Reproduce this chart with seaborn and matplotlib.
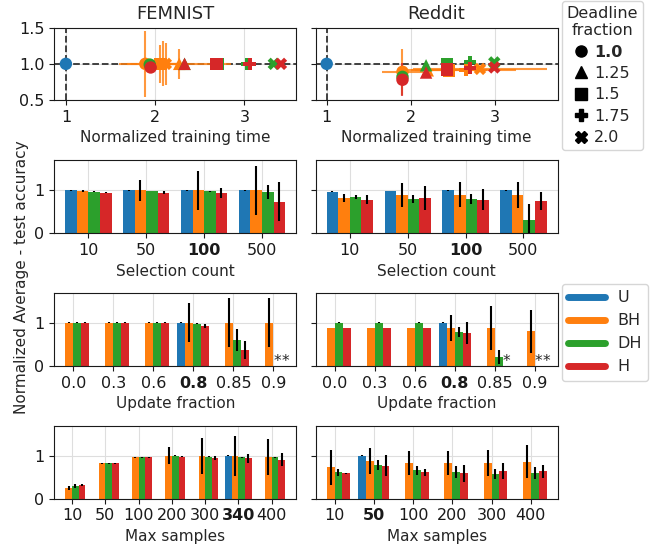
import numpy as np
import pandas as pd
import matplotlib
matplotlib.use("Agg")
import matplotlib.pyplot as plt
from matplotlib.lines import Line2D
from matplotlib.colors import to_hex
import seaborn as sns

methods = ['U', 'BH', 'DH', 'H']
colors = ['#1f77b4', '#ff7f0e', '#2ca02c', '#d62728']
deadlines = ['1.0', '1.25', '1.5', '1.75', '2.0']
deadline_markers = ['o', '^', 's', 'P', 'X']

# top row: normalized training time vs normalized accuracy
femnist_method = ['U', 'BH', 'BH', 'BH', 'BH', 'BH', 'DH', 'DH', 'DH', 'DH', 'DH', 'H', 'H', 'H', 'H', 'H']
femnist_deadline = ['1.0', '1.0', '1.25', '1.5', '1.75', '2.0', '1.0', '1.25', '1.5', '1.75', '2.0', '1.0', '1.25', '1.5', '1.75', '2.0']
femnist_time = [1.0, 1.89, 2.27, 2.06, 2.09, 2.12, 1.94, 2.33, 2.70, 3.03, 3.33, 1.95, 2.33, 2.69, 3.06, 3.41]
femnist_time_err = [0, 0.30, 0.58, 0.20, 0.20, 0.25, 0, 0, 0, 0, 0, 0, 0, 0, 0, 0]
femnist_acc = [1.0, 1.0, 1.0, 1.0, 1.0, 1.0, 0.99, 1.0, 1.0, 1.0, 1.0, 0.95, 1.0, 1.0, 1.0, 1.0]
femnist_acc_err = [0, 0.46, 0.21, 0.26, 0.31, 0.29, 0.02, 0, 0, 0, 0, 0.05, 0, 0, 0, 0]

reddit_method = femnist_method
reddit_deadline = femnist_deadline
reddit_time = [1.0, 1.90, 2.20, 2.45, 2.65, 2.82, 1.90, 2.18, 2.43, 2.70, 2.99, 1.90, 2.18, 2.43, 2.70, 2.99]
reddit_time_err = [0, 0.24, 0.35, 0.45, 0.60, 0.79, 0, 0, 0, 0, 0, 0, 0, 0, 0, 0]
reddit_acc = [1.0, 0.89, 0.91, 0.91, 0.92, 0.93, 0.82, 0.98, 1.0, 1.02, 1.02, 0.78, 0.88, 0.92, 0.94, 0.95]
reddit_acc_err = [0, 0.32, 0.02, 0.02, 0.02, 0.02, 0.05, 0, 0, 0, 0, 0.23, 0, 0, 0, 0]

nan = np.nan

# selection count
sel_cats = ['10', '50', '100', '500']
femnist_sel = {'U': [1.0, 1.0, 1.0, 1.0], 'BH': [0.98, 1.0, 1.0, 1.0],
               'DH': [0.96, 0.98, 0.97, 0.96], 'H': [0.94, 0.94, 0.94, 0.73]}
femnist_sel_err = {'U': [0.01] * 4, 'BH': [0.02, 0.24, 0.45, 0.57],
                   'DH': [0.01, 0.01, 0.01, 0.17], 'H': [0.01, 0.03, 0.11, 0.45]}
reddit_sel = {'U': [0.96, 0.98, 1.0, 1.0], 'BH': [0.82, 0.89, 0.89, 0.89],
              'DH': [0.845, 0.79, 0.79, 0.31], 'H': [0.78, 0.82, 0.78, 0.75]}
reddit_sel_err = {'U': [0.01] * 4, 'BH': [0.10, 0.27, 0.29, 0.31],
                  'DH': [0.04, 0.09, 0.12, 0.37], 'H': [0.10, 0.28, 0.24, 0.21]}

# update fraction
upd_cats = ['0.0', '0.3', '0.6', '0.8', '0.85', '0.9']
femnist_upd = {'U': [nan, nan, nan, 1.0, nan, nan], 'BH': [1.0, 1.0, 1.0, 1.0, 1.0, 1.0],
               'DH': [1.0, 1.0, 1.0, 0.98, 0.60, 0.01], 'H': [1.0, 1.0, 1.0, 0.93, 0.37, 0.01]}
femnist_upd_err = {'U': [0, 0, 0, 0.01, 0, 0], 'BH': [0.01, 0.01, 0.01, 0.45, 0.57, 0.57],
                   'DH': [0.01, 0.01, 0.01, 0.01, 0.25, 0], 'H': [0.01, 0.01, 0.01, 0.05, 0.20, 0]}
reddit_upd = {'U': [nan, nan, nan, 1.0, nan, nan], 'BH': [0.88, 0.88, 0.88, 0.88, 0.88, 0.81],
              'DH': [1.0, 1.0, 1.0, 0.79, 0.20, 0.01], 'H': [0.88, 0.88, 0.88, 0.77, 0.01, 0.01]}
reddit_upd_err = {'U': [0, 0, 0, 0.01, 0, 0], 'BH': [0.01, 0.01, 0.01, 0.31, 0.52, 0.50],
                  'DH': [0.01, 0.01, 0.01, 0.12, 0.16, 0], 'H': [0.01, 0.01, 0.01, 0.25, 0, 0]}

# max samples
femnist_max_cats = ['10', '50', '100', '200', '300', '340', '400']
femnist_max = {'U': [nan, nan, nan, nan, nan, 1.0, nan],
               'BH': [0.25, 0.82, 0.96, 1.0, 1.0, 1.0, 0.98],
               'DH': [0.29, 0.82, 0.96, 1.0, 0.98, 0.96, 0.96],
               'H': [0.32, 0.82, 0.96, 0.98, 0.94, 0.94, 0.91]}
femnist_max_err = {'U': [0, 0, 0, 0, 0, 0.01, 0],
                   'BH': [0.04, 0.01, 0.01, 0.20, 0.42, 0.46, 0.42],
                   'DH': [0.05, 0.01, 0.01, 0.01, 0.01, 0.01, 0.01],
                   'H': [0.02, 0.01, 0.01, 0.01, 0.05, 0.11, 0.15]}
reddit_max_cats = ['10', '50', '100', '200', '300', '400']
reddit_max = {'U': [nan, 1.0, nan, nan, nan, nan],
              'BH': [0.73, 0.88, 0.83, 0.83, 0.83, 0.86],
              'DH': [0.62, 0.79, 0.66, 0.62, 0.57, 0.59],
              'H': [0.59, 0.77, 0.62, 0.59, 0.64, 0.64]}
reddit_max_err = {'U': [0, 0.01, 0, 0, 0, 0],
                  'BH': [0.40, 0.30, 0.28, 0.28, 0.30, 0.38],
                  'DH': [0.08, 0.12, 0.10, 0.14, 0.12, 0.14],
                  'H': [0.02, 0.24, 0.08, 0.20, 0.18, 0.15]}


sns.set_style('whitegrid', rc={'axes.edgecolor': '.1', 'xtick.bottom': True, 'ytick.left': True,
                               'xtick.color': '.1', 'ytick.color': '.1', 'grid.color': '.87',
                               'axes.linewidth': 1.2})
plt.rcParams['font.family'] = ['DejaVu Sans']
plt.rcParams['font.size'] = 11
plt.rcParams['xtick.labelsize'] = 11.5
plt.rcParams['ytick.labelsize'] = 11.5
plt.rcParams['axes.labelsize'] = 11

fig = plt.figure(figsize=(6.57, 5.44), dpi=100)

W, H = 657.0, 544.0
col_x = [54.3, 315.7]
row_y = [(27.7, 100.0), (160.0, 233.3), (292.7, 366.0), (425.7, 498.7)]
axw = 241.8


def make_ax(r, c):
    top, bot = row_y[r]
    return fig.add_axes([col_x[c] / W, 1 - bot / H, axw / W, (bot - top) / H])


palette = dict(zip(methods, colors))
mk = dict(zip(deadlines, deadline_markers))


def time_plot(ax, meth, dl, t, te, a, ae, title, show_y, xlim=None):
    df = pd.DataFrame({'method': meth, 'deadline': dl, 'time': t, 'time_err': te,
                       'acc': a, 'acc_err': ae})
    ax.axhline(1.0, ls='--', color='.2', lw=1.3, zorder=1)
    ax.axvline(1.0, ls='--', color='.2', lw=1.3, zorder=1)
    for m in methods:
        sub = df[df['method'] == m]
        ax.errorbar(sub['time'], sub['acc'], xerr=sub['time_err'], yerr=sub['acc_err'],
                    fmt='none', ecolor=palette[m], elinewidth=1.5, alpha=0.8, zorder=2)
    sns.scatterplot(data=df, x='time', y='acc', hue='method', style='deadline',
                    hue_order=methods, style_order=deadlines, palette=palette, markers=mk,
                    s=80, linewidth=0, legend=False, ax=ax, zorder=3)
    ax.set_ylim(0.5, 1.5)
    if xlim is not None:
        ax.set_xlim(*xlim)
    ax.set_yticks([0.5, 1.0, 1.5])
    ax.set_xticks([1, 2, 3])
    ax.set_xlabel('Normalized training time')
    ax.set_ylabel('')
    ax.set_title(title, fontsize=13)
    if not show_y:
        ax.tick_params(labelleft=False)


def bar_plot(ax, cats, vals, errs, xlabel, bold, show_y, xlim=None):
    rows = []
    for m in methods:
        for i, c in enumerate(cats):
            if not np.isnan(vals[m][i]):
                rows.append((c, m, vals[m][i], errs[m][i]))
    df = pd.DataFrame(rows, columns=['cat', 'method', 'val', 'err'])
    sns.barplot(data=df, x='cat', y='val', hue='method', order=cats, hue_order=methods,
                palette=palette, saturation=1, errorbar=None, width=0.8, legend=False,
                linewidth=0, ax=ax)
    for m in methods:
        patches = [p for p in ax.patches if to_hex(p.get_facecolor()) == palette[m]]
        patches.sort(key=lambda p: p.get_x())
        sub = df[df['method'] == m].copy()
        sub['pos'] = sub['cat'].map({c: i for i, c in enumerate(cats)})
        sub = sub.sort_values('pos')
        xs = [p.get_x() + p.get_width() / 2 for p in patches]
        ax.errorbar(xs, sub['val'], yerr=sub['err'], fmt='none', ecolor='k', elinewidth=1.5, zorder=4)
        for x, v in zip(xs, sub['val']):
            if v < 0.05:
                ax.text(x, 0.0, '*', ha='center', va='baseline', fontsize=11, color='.15')
    ax.autoscale(enable=True, axis='x')
    if xlim is not None:
        ax.set_xlim(*xlim)
    ax.xaxis.grid(True)
    ax.set_ylim(0, 1.7)
    ax.set_yticks([0, 1])
    ax.set_xlabel(xlabel)
    ax.set_ylabel('')
    for lab in ax.get_xticklabels():
        if lab.get_text() == bold:
            lab.set_fontweight('bold')
    if not show_y:
        ax.tick_params(labelleft=False)


time_plot(make_ax(0, 0), femnist_method, femnist_deadline, femnist_time, femnist_time_err,
          femnist_acc, femnist_acc_err, 'FEMNIST', True, (0.87, 3.58))
time_plot(make_ax(0, 1), reddit_method, reddit_deadline, reddit_time, reddit_time_err,
          reddit_acc, reddit_acc_err, 'Reddit', False)

bar_plot(make_ax(1, 0), sel_cats, femnist_sel, femnist_sel_err, 'Selection count', '100', True)
bar_plot(make_ax(1, 1), sel_cats, reddit_sel, reddit_sel_err, 'Selection count', '100', False)
bar_plot(make_ax(2, 0), upd_cats, femnist_upd, femnist_upd_err, 'Update fraction', '0.8', True, (-0.48, 5.57))
bar_plot(make_ax(2, 1), upd_cats, reddit_upd, reddit_upd_err, 'Update fraction', '0.8', False, (-0.48, 5.57))
bar_plot(make_ax(3, 0), femnist_max_cats, femnist_max, femnist_max_err, 'Max samples', '340', True)
bar_plot(make_ax(3, 1), reddit_max_cats, reddit_max, reddit_max_err, 'Max samples', '50', False)

fig.text(0.033, 0.49, 'Normalized Average - test accuracy', rotation=90, ha='center', va='center',
         fontsize=11)

# deadline legend
dl_handles = [Line2D([0], [0], marker=m, color='k', ls='none', markersize=8) for m in deadline_markers]
leg1 = fig.legend(dl_handles, deadlines, title='Deadline\nfraction', loc='upper left',
                  bbox_to_anchor=(561.7 / W, 1 - 1 / H), fontsize=11.5, title_fontsize=11.5,
                  handlelength=0.8, handletextpad=0.4, labelspacing=0.4, borderaxespad=0,
                  borderpad=0.3)
leg1.get_texts()[0].set_fontweight('bold')
leg1.get_title().set_multialignment('center')

# method legend
m_handles = [Line2D([0], [0], color=c, lw=5) for c in colors]
fig.legend(m_handles, methods, loc='upper left', bbox_to_anchor=(561.7 / W, 1 - 284 / H),
           fontsize=11.5, handlelength=2.3, labelspacing=0.5, borderaxespad=0)

fig.savefig('out.png', dpi=100)
